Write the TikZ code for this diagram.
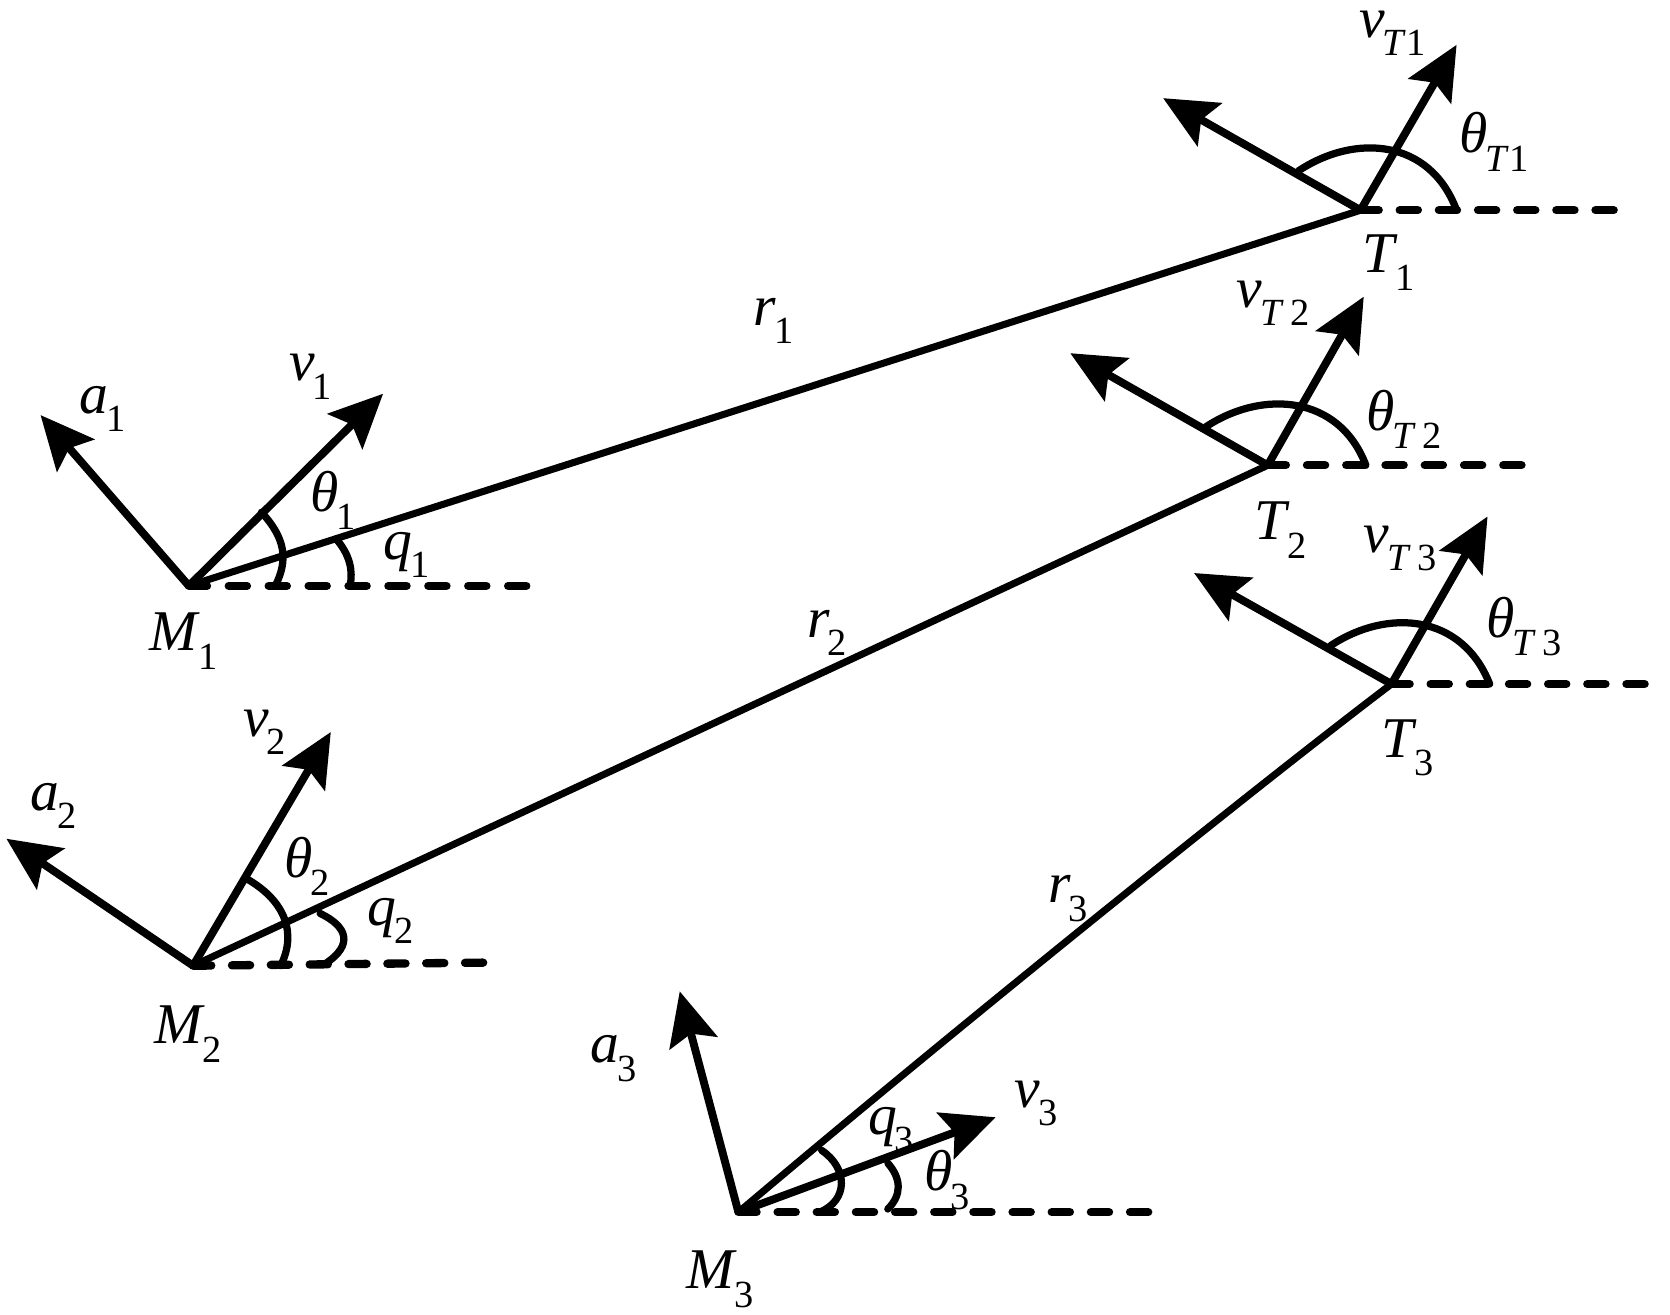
\documentclass[tikz,border=0pt]{standalone}
\usepackage{fontspec}
\setmainfont{Liberation Serif}
\usetikzlibrary{arrows.meta}
\newcommand{\symb}[2]{\textit{#1}\kern-0.04em\raisebox{-0.32em}{\fontsize{18}{18}\selectfont #2}}
\begin{document}
\begin{tikzpicture}[x=0.5pt, y=-0.5pt]
    \tikzstyle{vecline} = [line width=3.7pt, -{Stealth[length=25pt, width=23pt, inset=4.5pt]}]
    \tikzstyle{rangeline} = [line width=3.3pt]
    \tikzstyle{horizon} = [line width=3.9pt, line cap=round, dash pattern=on 8.5pt off #1]
    \tikzstyle{angleline} = [line width=3.4pt, line cap=round]
    \tikzstyle{lab} = [inner sep=0pt, font=\fontsize{27}{30}\selectfont]
    \useasboundingbox (0, 0) rectangle (1565, 1232);
    \coordinate (M1) at (177, 549);
    \coordinate (M2) at (181, 905);
    \coordinate (M3) at (692, 1136);
    \coordinate (T1) at (1275, 197);
    \coordinate (T2) at (1188, 436);
    \coordinate (T3) at (1304, 641);
    \coordinate (hM1) at (497, 549);
    \coordinate (hM2) at (463, 902);
    \coordinate (hM3) at (1086, 1136);
    \coordinate (hT1) at (1523, 197);
    \coordinate (hT2) at (1440, 436);
    \coordinate (hT3) at (1554, 641);
    \draw[horizon=10.2pt] (M1) -- (hM1);
    \draw[horizon=9.7pt] (M2) -- (hM2);
    \draw[horizon=9.85pt] (M3) -- (hM3);
    \draw[horizon=9.85pt] (T1) -- (hT1);
    \draw[horizon=9.9pt] (T2) -- (hT2);
    \draw[horizon=9.85pt] (T3) -- (hT3);
    \draw[rangeline] (M1) -- (T1);
    \draw[rangeline] (M2) -- (T2);
    \draw[rangeline] (M3) .. controls (900, 960) and (1180, 735) .. (T3);
    \coordinate (vM1) at (359, 369);
    \coordinate (aM1) at (38, 389);
    \coordinate (vM2) at (310, 686);
    \coordinate (aM2) at (6, 786);
    \coordinate (vM3) at (933, 1047);
    \coordinate (aM3) at (637, 929);
    \coordinate (vT1) at (1365, 42);
    \coordinate (aT1) at (1090, 92);
    \coordinate (vT2) at (1278, 278);
    \coordinate (aT2) at (1003, 331);
    \coordinate (vT3) at (1394, 484);
    \coordinate (aT3) at (1119, 537);
    \draw[vecline] (M1) -- (vM1);
    \draw[vecline] (M1) -- (aM1);
    \draw[vecline] (M2) -- (vM2);
    \draw[vecline] (M2) -- (aM2);
    \draw[vecline] (M3) -- (vM3);
    \draw[vecline] (M3) -- (aM3);
    \draw[vecline] (T1) -- (vT1);
    \draw[vecline] (T1) -- (aT1);
    \draw[vecline] (T2) -- (vT2);
    \draw[vecline] (T2) -- (aT2);
    \draw[vecline] (T3) -- (vT3);
    \draw[vecline] (T3) -- (aT3);
    \draw[angleline] (245, 480) .. controls (268, 505) and (270, 525) .. (258, 549);
    \draw[angleline] (315, 505) .. controls (328, 520) and (331, 535) .. (328, 549);
    \draw[angleline] (232, 824) .. controls (268, 845) and (278, 875) .. (263, 905);
    \draw[angleline] (300, 856) .. controls (325, 868) and (332, 885) .. (305, 903);
    \draw[angleline] (770, 1078) .. controls (795, 1095) and (795, 1125) .. (768, 1136);
    \draw[angleline] (832, 1090) .. controls (845, 1105) and (845, 1120) .. (832, 1133);
    \draw[angleline] (1217, 160) .. controls (1270, 125) and (1340, 130) .. (1365, 197);
    \draw[angleline] (1130, 400) .. controls (1183, 365) and (1255, 370) .. (1280, 436);
    \draw[angleline] (1247, 605) .. controls (1300, 570) and (1370, 575) .. (1396, 641);
    \node[lab] (la1) at (96, 383) {\symb{a}{1}};
    \node[lab] (lv1) at (291, 353) {\symb{v}{1}};
    \node[lab] (lth1) at (312, 469) {\symb{θ}{1}};
    \node[lab] (lq1) at (381, 520) {\symb{q}{1}};
    \node[lab] (lM1) at (172, 601) {\symb{M}{1}};
    \node[lab] (lr1) at (725, 301) {\symb{r}{1}};
    \node[lab] (la2) at (50, 755) {\symb{a}{2}};
    \node[lab] (lv2) at (248, 686) {\symb{v}{2}};
    \node[lab] (lth2) at (288, 812) {\symb{θ}{2}};
    \node[lab] (lq2) at (366, 863) {\symb{q}{2}};
    \node[lab] (lM2) at (176, 969) {\symb{M}{2}};
    \node[lab] (lr2) at (775, 593) {\symb{r}{2}};
    \node[lab] (la3) at (575, 992) {\symb{a}{3}};
    \node[lab] (lv3) at (971, 1034) {\symb{v}{3}};
    \node[lab] (lth3) at (888, 1106) {\symb{θ}{3}};
    \node[lab] (lq3) at (835, 1059) {\symb{q}{3}};
    \node[lab] (lM3) at (675, 1199) {\symb{M}{3}};
    \node[lab] (lr3) at (1001, 842) {\symb{r}{3}};
    \node[lab] (lvT1) at (1305, 31) {\symb{v}{\textit{T}1}};
    \node[lab] (lthT1) at (1400, 133) {\symb{θ}{\textit{T}1}};
    \node[lab] (lT1) at (1301, 246) {\symb{T}{1}};
    \node[lab] (lvT2) at (1193, 284) {\symb{v}{\textit{T}\,2}};
    \node[lab] (lthT2) at (1316, 393) {\symb{θ}{\textit{T}\,2}};
    \node[lab] (lT2) at (1200, 497) {\symb{T}{2}};
    \node[lab] (lvT3) at (1312, 514) {\symb{v}{\textit{T}\,3}};
    \node[lab] (lthT3) at (1428, 587) {\symb{θ}{\textit{T}\,3}};
    \node[lab] (lT3) at (1319, 701) {\symb{T}{3}};
\end{tikzpicture}
\end{document}
